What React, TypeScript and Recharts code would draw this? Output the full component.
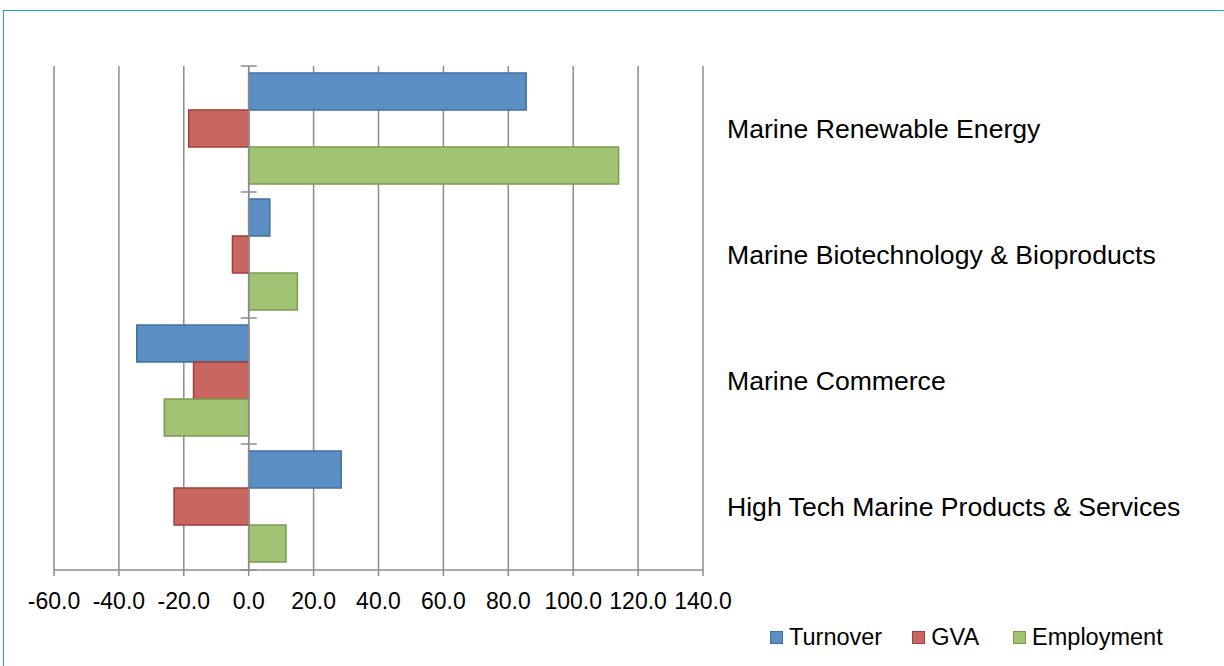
import React from 'react';
import {
  BarChart,
  Bar,
  XAxis,
  YAxis,
  CartesianGrid,
  ReferenceLine,
} from 'recharts';

const categories = [
  'Marine Renewable Energy',
  'Marine Biotechnology & Bioproducts',
  'Marine Commerce',
  'High Tech Marine Products & Services',
];
const turnover = [85.5, 6.5, -34.5, 28.5];
const gva = [-18.5, -5.0, -17.0, -23.0];
const employment = [114.0, 15.0, -26.0, 11.5];
const xTicks = [-60, -40, -20, 0, 20, 40, 60, 80, 100, 120, 140];

const SERIES = [
  { key: 'turnover', name: 'Turnover', fill: '#5b8fc4', stroke: '#41709f' },
  { key: 'gva', name: 'GVA', fill: '#c9665f', stroke: '#9b403c' },
  { key: 'employment', name: 'Employment', fill: '#a1c373', stroke: '#7d9a50' },
];

const FONT = '"Liberation Sans", Arial, sans-serif';
const GRID = '#8c8c8c';

const data = categories.map((name, i) => ({
  name,
  turnover: turnover[i],
  gva: gva[i],
  employment: employment[i],
}));

// zero axis with cross ticks at category boundaries
const ZeroAxis: React.FC<any> = ({ x1, y1, x2, y2 }) => {
  if (x1 == null) return null;
  const n = categories.length;
  const marks = Array.from({ length: n + 1 }, (_, i) => y1 + ((y2 - y1) * i) / n);
  return (
    <g>
      <line x1={x1} y1={y1} x2={x2} y2={y2} stroke={GRID} strokeWidth={1.5} />
      {marks.map((y, i) => (
        <line key={i} x1={x1 - 8} x2={x1 + 8} y1={y} y2={y} stroke={GRID} strokeWidth={1.5} />
      ))}
    </g>
  );
};

export default function App() {
  return (
    <div style={{ position: 'absolute', left: 0, top: 0, width: 1224, height: 666, background: '#fff', overflow: 'hidden' }}>
      <div style={{ position: 'absolute', left: 3, top: 10, right: -10, bottom: -10, borderTop: '1.5px solid #16a3e0', borderLeft: '1.5px solid #16a3e0' }} />
      <BarChart
        width={1224}
        height={666}
        data={data}
        layout="vertical"
        margin={{ top: 66, right: 21, bottom: 56, left: 54 }}
        barCategoryGap="5.5%"
        barGap={0}
        style={{ position: 'absolute', left: 0, top: 0 }}
      >
        <CartesianGrid vertical horizontal={false} stroke={GRID} strokeWidth={1.5} />
        <XAxis
          type="number"
          domain={[-60, 140]}
          ticks={xTicks}
          interval={0}
          height={40}
          allowDataOverflow
          tickFormatter={(v: number) => v.toFixed(1)}
          axisLine={{ stroke: GRID, strokeWidth: 1.5 }}
          tickLine={{ stroke: GRID, strokeWidth: 1.5 }}
          tickSize={6}
          tickMargin={17}
          tick={{ fill: '#000', fontSize: 23, fontFamily: FONT }}
        />
        <YAxis
          type="category"
          dataKey="name"
          orientation="right"
          width={500}
          axisLine={false}
          tickLine={false}
          tickSize={0}
          tickMargin={24}
          tick={{ fill: '#000', fontSize: 26.6, fontFamily: FONT }}
        />
        {SERIES.map(s => (
          <Bar
            key={s.key}
            dataKey={s.key}
            name={s.name}
            fill={s.fill}
            stroke={s.stroke}
            strokeWidth={1.5}
            isAnimationActive={false}
          />
        ))}
        <ReferenceLine x={0} shape={<ZeroAxis />} />
      </BarChart>
      <div style={{ position: 'absolute', left: 770, top: 624, display: 'flex', alignItems: 'center', fontFamily: FONT, fontSize: 23.5, color: '#000' }}>
        {SERIES.map((s, i) => (
          <div key={s.key} style={{ display: 'flex', alignItems: 'center', marginRight: i === 0 ? 30 : 34 }}>
            <span style={{ display: 'inline-block', width: 11, height: 11, background: s.fill, border: `1px solid ${s.stroke}`, marginRight: 6 }} />
            <span>{s.name}</span>
          </div>
        ))}
      </div>
    </div>
  );
}
